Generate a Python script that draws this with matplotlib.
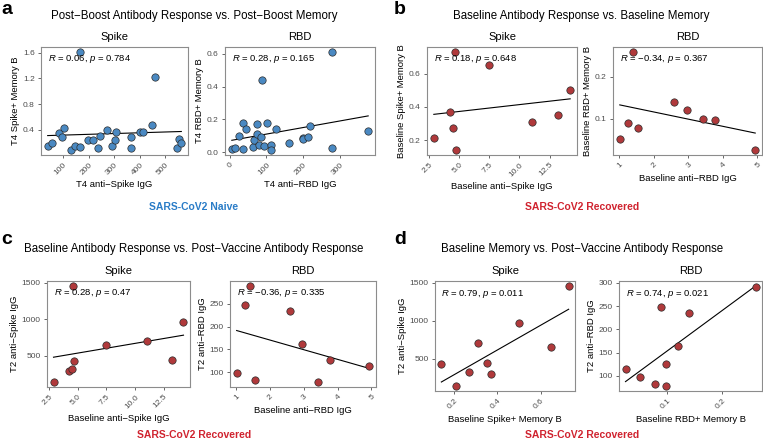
import matplotlib
matplotlib.use('Agg')
import matplotlib.pyplot as plt
import numpy as np

plt.rcParams['font.family'] = ['Liberation Sans', 'DejaVu Sans']
plt.rcParams['mathtext.fontset'] = 'custom'
plt.rcParams['mathtext.rm'] = 'Liberation Sans'
plt.rcParams['mathtext.it'] = 'Liberation Sans:italic'

### data
# a: SARS-CoV2 naive, post-boost (T4)
t4_spike_igg = [40, 55, 85, 97, 103, 132, 145, 168, 168, 196, 217, 238, 246,
                273, 291, 304, 306, 367, 367, 401, 413, 446, 460, 544, 553, 562]
t4_spike_memb = [0.15, 0.19, 0.35, 0.28, 0.42, 0.08, 0.14, 0.13, 1.615, 0.24, 0.23, 0.11, 0.30,
                 0.39, 0.15, 0.24, 0.36, 0.28, 0.11, 0.36, 0.36, 0.47, 1.215, 0.11, 0.26, 0.19]
t4_rbd_igg = [6, 14, 25, 36, 36, 45, 64, 66, 73, 73, 81, 84, 88,
              94, 102, 112, 112, 125, 162, 199, 199, 213, 217, 279, 279, 376]
t4_rbd_memb = [0.018, 0.026, 0.10, 0.18, 0.018, 0.14, 0.032, 0.076, 0.17, 0.11, 0.042, 0.092, 0.44,
               0.038, 0.18, 0.046, 0.014, 0.14, 0.058, 0.088, 0.082, 0.096, 0.16, 0.61, 0.028, 0.13]

# b, c, d: SARS-CoV2 recovered
base_spike_igg = [2.9, 4.28, 4.52, 4.63, 4.7, 7.5, 11.0, 13.2, 14.2]
base_spike_memb = [0.21, 0.37, 0.27, 0.73, 0.14, 0.65, 0.31, 0.35, 0.50]
t2_spike_igg = [137, 297, 323, 1458, 423, 650, 708, 442, 968]

base_rbd_igg = [1.02, 1.27, 1.40, 1.56, 2.60, 2.96, 3.42, 3.77, 4.94]
base_rbd_memb = [0.051, 0.090, 0.26, 0.079, 0.140, 0.120, 0.099, 0.098, 0.025]
t2_rbd_igg = [98, 247, 290, 82, 234, 163, 78, 126, 114]

stats = {
    'a1': ('0.06', '0.784'), 'a2': ('0.28', '0.165'),
    'b1': ('0.18', '0.648'), 'b2': ('\u22120.34', '0.367'),
    'c1': ('0.28', '0.47'), 'c2': ('\u22120.36', '0.335'),
    'd1': ('0.79', '0.011'), 'd2': ('0.74', '0.021'),
}

W, H = 763, 446
fig = plt.figure(figsize=(W / 100, H / 100), dpi=100)

BLUE = '#4a89c2'
RED = '#b0393b'


def px_axes(l, t, r, b):
    return fig.add_axes([l / W, 1 - b / H, (r - l) / W, (b - t) / H])


def scatter_panel(box, x, y, key, title, xlab, ylab, xt, xtl, yt, ytl, col):
    ax = px_axes(*box)
    x = np.array(x)
    y = np.array(y)
    ax.scatter(x, y, s=28, c=col, edgecolors='#2b2b2b', linewidths=0.5, zorder=3)
    k, b0 = np.polyfit(x, y, 1)
    xs = np.array([x.min(), x.max()])
    ax.plot(xs, k * xs + b0, color='black', lw=0.8, zorder=2)
    ax.set_xticks(xt)
    ax.set_xticklabels(xtl, rotation=45, ha='right', va='top', rotation_mode='anchor')
    ax.set_yticks(yt)
    ax.set_yticklabels(ytl)
    ax.tick_params(labelsize=6, colors='#4d4d4d', length=2.5, width=0.6, pad=2)
    for sp in ax.spines.values():
        sp.set_color('#8c8c8c')
        sp.set_linewidth(0.8)
    ax.set_xlabel(xlab, fontsize=6.8, labelpad=3)
    ax.set_ylabel(ylab, fontsize=6.8, labelpad=2)
    ax.set_title(title, fontsize=8, pad=5)
    r, p = stats[key]
    ax.annotate(r'$R$ = ' + r + r', $p$ = ' + p, xy=(x.min(), 0.885),
                xycoords=('data', 'axes fraction'), fontsize=6.8, ha='left', va='center')
    return ax


# a
scatter_panel((41, 47, 188, 155), t4_spike_igg, t4_spike_memb, 'a1', 'Spike',
              'T4 anti\u2212Spike IgG', 'T4 Spike+ Memory B',
              [100, 200, 300, 400, 500], ['100', '200', '300', '400', '500'],
              [0.4, 0.8, 1.2, 1.6], ['0.4', '0.8', '1.2', '1.6'], BLUE)
scatter_panel((225, 47, 375, 155), t4_rbd_igg, t4_rbd_memb, 'a2', 'RBD',
              'T4 anti\u2212RBD IgG', 'T4 RBD+ Memory B',
              [0, 100, 200, 300], ['0', '100', '200', '300'],
              [0.0, 0.2, 0.4, 0.6], ['0.0', '0.2', '0.4', '0.6'], BLUE)
# b
scatter_panel((427, 47, 577, 155), base_spike_igg, base_spike_memb, 'b1', 'Spike',
              'Baseline anti\u2212Spike IgG', 'Baseline Spike+ Memory B',
              [2.5, 5, 7.5, 10, 12.5], ['2.5', '5.0', '7.5', '10.0', '12.5'],
              [0.2, 0.4, 0.6], ['0.2', '0.4', '0.6'], RED)
scatter_panel((613, 47, 762, 155), base_rbd_igg, base_rbd_memb, 'b2', 'RBD',
              'Baseline anti\u2212RBD IgG', 'Baseline RBD+ Memory B',
              [1, 2, 3, 4, 5], ['1', '2', '3', '4', '5'],
              [0.1, 0.2], ['0.1', '0.2'], RED)
# c
scatter_panel((47, 281, 190, 387), base_spike_igg, t2_spike_igg, 'c1', 'Spike',
              'Baseline anti\u2212Spike IgG', 'T2 anti\u2212Spike IgG',
              [2.5, 5, 7.5, 10, 12.5], ['2.5', '5.0', '7.5', '10.0', '12.5'],
              [500, 1000, 1500], ['500', '1000', '1500'], RED)
scatter_panel((230, 281, 376, 387), base_rbd_igg, t2_rbd_igg, 'c2', 'RBD',
              'Baseline anti\u2212RBD IgG', 'T2 anti\u2212RBD IgG',
              [1, 2, 3, 4, 5], ['1', '2', '3', '4', '5'],
              [100, 150, 200, 250], ['100', '150', '200', '250'], RED)
# d
scatter_panel((435, 281, 575, 391), base_spike_memb, t2_spike_igg, 'd1', 'Spike',
              'Baseline Spike+ Memory B', 'T2 anti\u2212Spike IgG',
              [0.2, 0.4, 0.6], ['0.2', '0.4', '0.6'],
              [500, 1000, 1500], ['500', '1000', '1500'], RED)
scatter_panel((619, 281, 762, 391), base_rbd_memb, t2_rbd_igg, 'd2', 'RBD',
              'Baseline RBD+ Memory B', 'T2 anti\u2212RBD IgG',
              [0.1, 0.2], ['0.1', '0.2'],
              [100, 150, 200, 250, 300], ['100', '150', '200', '250', '300'], RED)

### headings, letters and group labels
def ftext(x, y, s, **kw):
    fig.text(x / W, 1 - y / H, s, **kw)


ftext(194, 16, 'Post\u2212Boost Antibody Response vs. Post\u2212Boost Memory', fontsize=8.3, ha='center', va='center')
ftext(581, 16, 'Baseline Antibody Response vs. Baseline Memory', fontsize=8.3, ha='center', va='center')
ftext(194, 249, 'Baseline Antibody Response vs. Post\u2212Vaccine Antibody Response', fontsize=8.3, ha='center', va='center')
ftext(582, 249, 'Baseline Memory vs. Post\u2212Vaccine Antibody Response', fontsize=8.3, ha='center', va='center')

ftext(1, 10, 'a', fontsize=14, fontweight='bold', ha='left', va='center')
ftext(394, 10, 'b', fontsize=14, fontweight='bold', ha='left', va='center')
ftext(1, 240, 'c', fontsize=14, fontweight='bold', ha='left', va='center')
ftext(394, 240, 'd', fontsize=14, fontweight='bold', ha='left', va='center')

ftext(194, 207, 'SARS-CoV2 Naive', fontsize=7.5, fontweight='bold', color='#2a7cc7', ha='center', va='center')
ftext(582, 207, 'SARS-CoV2 Recovered', fontsize=7.5, fontweight='bold', color='#d0232f', ha='center', va='center')
ftext(194, 435, 'SARS-CoV2 Recovered', fontsize=7.5, fontweight='bold', color='#d0232f', ha='center', va='center')
ftext(582, 435, 'SARS-CoV2 Recovered', fontsize=7.5, fontweight='bold', color='#d0232f', ha='center', va='center')

fig.savefig('out.png', dpi=100)
